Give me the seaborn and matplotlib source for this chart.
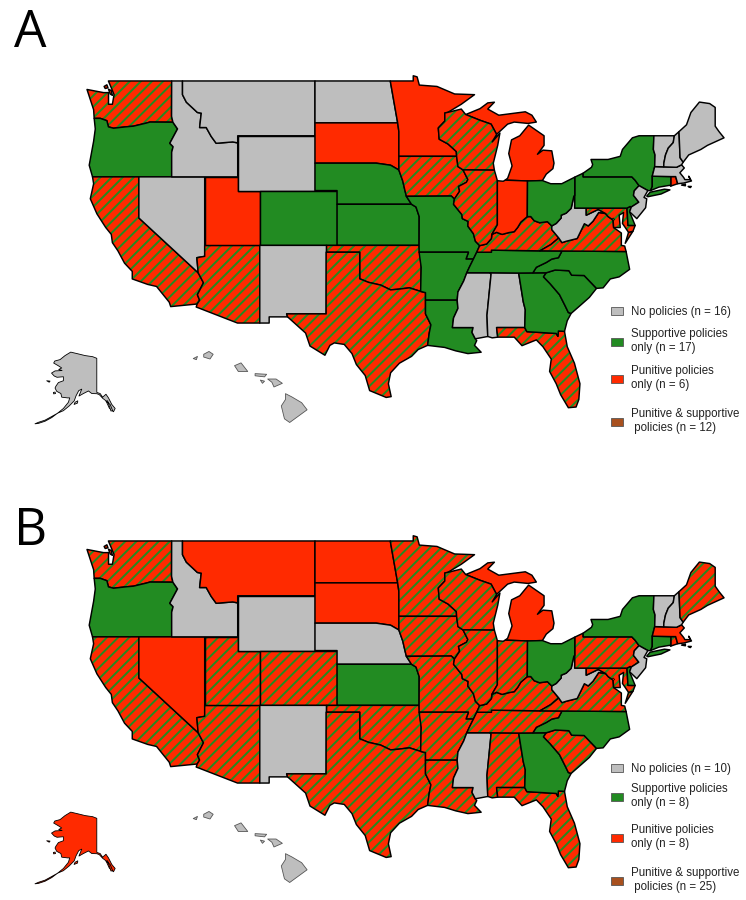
import matplotlib
matplotlib.use('Agg')
import matplotlib.pyplot as plt
import seaborn as sns
import pandas as pd
from matplotlib.patches import Patch

# shared borders, lon/lat (rivers etc)
MISS_A = [(-92.01, 46.71), (-92.29, 46.66), (-92.29, 46.07), (-92.88, 45.57), (-92.8, 44.75), (-92.0, 44.4), (-91.25, 43.85), (-91.22, 43.5)]
MISS_B = [(-91.22, 43.5), (-91.1, 42.75), (-90.64, 42.51)]
MISS_C = [(-90.64, 42.51), (-90.2, 41.8), (-90.34, 41.6), (-91.05, 41.3), (-90.95, 40.95), (-91.42, 40.38)]
MISS_D = [(-91.42, 40.38), (-91.5, 40.0), (-90.75, 39.25), (-90.7, 38.95), (-90.18, 38.75), (-90.2, 38.4), (-89.7, 37.85), (-89.52, 37.3), (-89.13, 36.98)]
MISS_E = [(-89.13, 36.98), (-89.4, 36.5)]
MISS_F = [(-89.4, 36.5), (-89.7, 36.0)]
MISS_G = [(-89.7, 36.0), (-90.07, 35.4), (-90.3, 35.0)]
MISS_H = [(-90.3, 35.0), (-90.58, 34.4), (-91.1, 33.6), (-91.17, 33.0)]
MISS_I = [(-91.17, 33.0), (-91.1, 32.4), (-91.5, 31.7), (-91.6, 31.0)]
OHIO_A = [(-89.13, 36.98), (-88.5, 37.1), (-88.07, 37.5), (-88.03, 37.8)]
OHIO_B = [(-88.03, 37.8), (-87.6, 37.95), (-87.1, 37.8), (-86.5, 37.93), (-86.0, 38.0), (-85.7, 38.3), (-85.4, 38.7), (-84.82, 39.1)]
OHIO_C = [(-84.82, 39.1), (-84.5, 39.1), (-84.2, 38.8), (-83.7, 38.65), (-83.0, 38.73), (-82.6, 38.42)]
OHIO_D = [(-82.6, 38.42), (-82.2, 38.6), (-81.75, 39.0), (-81.75, 39.2), (-81.3, 39.35), (-80.85, 39.7), (-80.6, 40.6)]
SNAKE = [(-116.92, 45.99), (-116.5, 45.5), (-117.2, 44.45), (-116.9, 44.2), (-117.03, 43.8), (-117.03, 42.0)]
BITTERROOT = [(-116.05, 48.0), (-115.7, 47.45), (-114.7, 46.7), (-114.35, 46.65), (-114.5, 45.6), (-113.9, 45.6), (-113.45, 44.95), (-113.0, 44.45), (-111.5, 44.55), (-111.05, 44.48)]
COLUMBIA = [(-116.92, 45.99), (-119.0, 46.0), (-119.3, 45.93), (-120.5, 45.7), (-121.2, 45.65), (-122.3, 45.55), (-122.76, 45.65), (-122.9, 46.1), (-123.5, 46.27), (-124.05, 46.27)]
RED_RIVER = [(-100.0, 34.56), (-99.2, 34.3), (-98.1, 34.1), (-97.2, 33.75), (-96.5, 33.8), (-95.5, 33.9), (-94.48, 33.64)]
COLORADO_R = [(-114.63, 35.0), (-114.15, 34.27), (-114.7, 33.4), (-114.5, 33.0), (-114.72, 32.72)]
MO_RIVER = [(-96.45, 42.5), (-96.1, 41.7), (-95.9, 41.0), (-95.77, 40.58)]
SAVANNAH = [(-83.1, 35.0), (-83.35, 34.7), (-82.75, 34.2), (-81.9, 33.4), (-81.4, 32.6), (-81.1, 32.1), (-80.85, 32.03)]
SMOKIES = [(-81.68, 36.59), (-82.0, 36.1), (-82.6, 36.0), (-83.1, 35.75), (-84.0, 35.4), (-84.32, 34.99)]
NC_SC = [(-83.1, 35.0), (-82.3, 35.2), (-81.05, 35.15), (-80.8, 34.82), (-79.67, 34.8), (-78.55, 33.86)]
KY_VA = [(-81.97, 37.54), (-82.7, 37.05), (-83.68, 36.6)]
VA_WV = [(-77.72, 39.32), (-78.35, 39.4), (-78.87, 38.76), (-79.3, 38.42), (-79.65, 38.58), (-80.3, 37.5), (-81.3, 37.3), (-81.68, 37.2), (-81.97, 37.54)]
POTOMAC = [(-76.3, 37.9), (-77.0, 38.3), (-77.05, 38.85), (-77.5, 39.1), (-77.72, 39.32)]
NY_NJ_PA = [(-75.35, 42.0), (-75.05, 41.75), (-74.7, 41.36)]
DELAWARE_R = [(-74.7, 41.36), (-75.13, 40.98), (-75.2, 40.65), (-74.72, 40.15), (-75.4, 39.8)]
CT_RIVER = [(-71.5, 45.0), (-71.6, 44.5), (-72.05, 44.1), (-72.3, 43.6), (-72.45, 43.0), (-72.46, 42.73)]
VT_NY = [(-73.35, 45.0), (-73.4, 44.0), (-73.25, 43.6), (-73.28, 42.75)]
NH_ME = [(-71.08, 45.3), (-70.98, 43.4), (-70.7, 43.07)]
MA_NORTH = [(-73.28, 42.75), (-72.46, 42.73), (-71.3, 42.7), (-70.85, 42.88)]
WI_UP = [(-90.4, 46.55), (-89.1, 46.13), (-88.1, 45.85), (-87.6, 45.1)]

STATES = {
    'WA': [[(-122.76, 49.0), (-117.03, 49.0), (-117.04, 46.42)] + COLUMBIA + [(-124.1, 46.9), (-124.7, 48.38), (-123.2, 48.15), (-122.75, 48.15), (-122.75, 47.3), (-122.4, 47.3), (-122.25, 48.0), (-122.5, 48.5), (-122.76, 49.0)],
           [(-123.15, 48.6), (-122.9, 48.72), (-122.8, 48.5), (-123.05, 48.45)],
           [(-122.75, 48.4), (-122.5, 48.3), (-122.4, 47.95), (-122.6, 48.05)]],
    'OR': [COLUMBIA + [(-123.95, 45.5), (-124.1, 44.6), (-124.5, 42.85), (-124.2, 42.0), (-120.0, 42.0)] + SNAKE[::-1]],
    'CA': [[(-124.2, 42.0), (-124.1, 41.5), (-124.4, 40.4), (-123.8, 39.3), (-123.0, 38.3), (-122.5, 37.8), (-122.4, 37.2), (-121.9, 36.6), (-121.3, 35.7), (-120.6, 35.1), (-120.6, 34.55), (-119.2, 34.15), (-118.4, 34.0), (-117.25, 32.85), (-117.12, 32.53)] + COLORADO_R[::-1] + [(-120.0, 39.0), (-120.0, 42.0)]],
    'NV': [[(-120.0, 42.0), (-114.04, 42.0), (-114.04, 36.2), (-114.75, 36.1), (-114.63, 35.0), (-120.0, 39.0)]],
    'AZ': [COLORADO_R + [(-114.81, 32.5), (-111.07, 31.33), (-109.05, 31.33), (-109.05, 37.0), (-114.04, 37.0), (-114.04, 36.2), (-114.75, 36.1)]],
    'UT': [[(-114.04, 42.0), (-111.05, 42.0), (-111.05, 41.0), (-109.05, 41.0), (-109.05, 37.0), (-114.04, 37.0)]],
    'ID': [[(-117.03, 49.0), (-116.05, 49.0)] + BITTERROOT + [(-111.05, 42.0)] + SNAKE[::-1] + [(-117.04, 46.42)]],
    'MT': [[(-116.05, 49.0), (-104.05, 49.0), (-104.05, 45.0), (-111.05, 45.0)] + BITTERROOT[::-1]],
    'WY': [[(-111.05, 45.0), (-104.05, 45.0), (-104.05, 41.0), (-111.05, 41.0)]],
    'CO': [[(-109.05, 41.0), (-102.05, 41.0), (-102.05, 37.0), (-109.05, 37.0)]],
    'NM': [[(-109.05, 37.0), (-103.0, 37.0), (-103.04, 32.0), (-106.62, 32.0), (-106.53, 31.78), (-108.2, 31.78), (-108.2, 31.33), (-109.05, 31.33)]],
    'ND': [[(-104.05, 49.0), (-97.23, 49.0), (-96.56, 45.94), (-104.05, 45.94)]],
    'SD': [[(-104.05, 45.94), (-96.56, 45.94), (-96.45, 45.3), (-96.45, 43.5), (-96.45, 42.5), (-97.2, 42.85), (-98.5, 43.0), (-104.05, 43.0)]],
    'NE': [[(-104.05, 43.0), (-98.5, 43.0), (-97.2, 42.85)] + MO_RIVER + [(-95.31, 40.0), (-102.05, 40.0), (-102.05, 41.0), (-104.05, 41.0)]],
    'KS': [[(-102.05, 40.0), (-95.31, 40.0), (-94.9, 39.8), (-94.61, 39.1), (-94.62, 37.0), (-102.05, 37.0)]],
    'OK': [[(-103.0, 37.0), (-94.62, 37.0), (-94.43, 35.4)] + RED_RIVER[::-1] + [(-100.0, 36.5), (-103.0, 36.5)]],
    'TX': [[(-103.04, 36.5), (-100.0, 36.5)] + RED_RIVER + [(-94.04, 33.55), (-94.04, 32.0), (-93.55, 31.2), (-93.7, 30.6), (-93.85, 29.7), (-94.7, 29.4), (-95.3, 28.9), (-96.4, 28.4), (-97.2, 27.7), (-97.4, 26.9), (-97.15, 25.96), (-97.6, 25.9), (-99.1, 26.4), (-99.5, 27.5), (-100.3, 28.3), (-100.7, 29.1), (-101.4, 29.77), (-102.3, 29.88), (-102.7, 29.7), (-103.15, 28.98), (-104.5, 29.65), (-104.9, 30.6), (-106.53, 31.78), (-106.62, 32.0), (-103.04, 32.0)]],
    'MN': [[(-97.23, 49.0), (-95.15, 49.0), (-95.15, 49.38), (-94.8, 49.3), (-94.6, 48.7), (-93.0, 48.6), (-91.4, 48.05), (-89.6, 48.0), (-90.8, 47.3)] + MISS_A + [(-96.45, 43.5), (-96.45, 45.3), (-96.56, 45.94)]],
    'IA': [[(-96.45, 43.5)] + MISS_B + MISS_C + [(-91.7, 40.6)] + MO_RIVER[::-1]],
    'MO': [[(-95.77, 40.58), (-91.7, 40.6)] + MISS_D + MISS_E + MISS_F + [(-90.37, 36.0), (-90.15, 36.5), (-94.62, 36.5), (-94.62, 37.0), (-94.61, 39.1), (-94.9, 39.8), (-95.31, 40.0)]],
    'AR': [[(-94.62, 36.5), (-90.15, 36.5), (-90.37, 36.0)] + MISS_G + MISS_H + [(-94.04, 33.0), (-94.04, 33.55), (-94.48, 33.64), (-94.43, 35.4)]],
    'LA': [[(-94.04, 33.0)] + MISS_I + [(-89.73, 31.0), (-89.83, 30.65), (-89.53, 30.18), (-89.4, 30.05), (-89.6, 29.7), (-89.0, 29.2), (-90.2, 29.1), (-91.3, 29.3), (-92.3, 29.55), (-93.85, 29.7), (-93.7, 30.6), (-93.55, 31.2), (-94.04, 32.0)]],
    'MS': [MISS_H + MISS_I[1:] + [(-89.73, 31.0), (-89.83, 30.65), (-89.53, 30.18), (-88.4, 30.35), (-88.47, 31.9), (-88.1, 34.9), (-88.2, 35.0)]],
    'AL': [[(-88.2, 35.0), (-85.6, 34.98), (-85.18, 32.87), (-85.0, 32.3), (-85.05, 31.0), (-87.6, 31.0), (-87.5, 30.3), (-88.0, 30.25), (-88.4, 30.35), (-88.47, 31.9), (-88.1, 34.9)]],
    'FL': [[(-87.6, 31.0), (-85.05, 31.0), (-84.86, 30.7), (-82.2, 30.57), (-82.05, 30.36), (-82.0, 30.75), (-81.45, 30.72), (-81.2, 29.6), (-80.55, 28.4), (-80.05, 26.9), (-80.15, 25.75), (-80.4, 25.2), (-81.1, 25.15), (-81.8, 26.1), (-82.2, 26.9), (-82.8, 27.8), (-82.65, 28.7), (-83.4, 29.6), (-84.0, 30.1), (-85.3, 29.68), (-86.0, 30.3), (-87.5, 30.3)]],
    'GA': [[(-85.6, 34.98)] + SAVANNAH + [(-81.2, 31.5), (-81.45, 30.72), (-82.0, 30.75), (-82.05, 30.36), (-82.2, 30.57), (-84.86, 30.7), (-85.05, 31.0), (-85.0, 32.3), (-85.18, 32.87)]],
    'SC': [NC_SC + [(-79.2, 33.2), (-79.9, 32.7)] + SAVANNAH[::-1]],
    'NC': [[(-84.32, 34.99)] + NC_SC + [(-77.95, 33.9), (-77.3, 34.55), (-76.5, 34.7), (-75.55, 35.25), (-75.87, 36.55)] + SMOKIES[:-1]],
    'TN': [[(-89.4, 36.5), (-88.07, 36.5), (-88.07, 36.65), (-83.68, 36.6)] + SMOKIES + [(-85.6, 34.98), (-88.2, 35.0)] + MISS_G[::-1] + MISS_F[::-1]],
    'KY': [OHIO_A + OHIO_B + OHIO_C + [(-82.6, 38.15)] + KY_VA + [(-88.07, 36.65), (-88.07, 36.5)] + MISS_E[::-1]],
    'VA': [[(-83.68, 36.6), (-81.68, 36.59), (-75.87, 36.55), (-76.0, 36.95), (-76.3, 37.0)] + POTOMAC + VA_WV + KY_VA[1:],
           [(-75.95, 37.15), (-75.25, 38.03), (-75.65, 37.95)]],
    'WV': [OHIO_D + [(-80.52, 40.64), (-80.52, 39.72), (-79.48, 39.72), (-79.48, 39.2), (-78.4, 39.62)] + VA_WV + [(-82.6, 38.15)]],
    'MD': [[(-79.48, 39.72), (-75.79, 39.72), (-75.7, 38.46), (-75.05, 38.45), (-75.25, 38.03), (-75.65, 37.95), (-76.2, 38.6), (-76.1, 39.4), (-76.5, 39.2), (-76.4, 38.3)] + POTOMAC[1:] + [(-78.4, 39.62), (-79.48, 39.2)]],
    'DE': [[(-75.79, 39.72), (-75.5, 39.84), (-75.4, 39.8), (-75.55, 39.45), (-75.05, 38.45), (-75.7, 38.46)]],
    'DC': [[(-77.12, 38.93), (-77.04, 39.0), (-76.91, 38.89), (-77.04, 38.8)]],
    'PA': [[(-80.52, 41.98), (-79.76, 42.27), (-79.76, 42.0)] + NY_NJ_PA + DELAWARE_R + [(-75.5, 39.84), (-75.79, 39.72), (-80.52, 39.72), (-80.52, 40.64)]],
    'NY': [[(-79.76, 42.27), (-79.0, 42.7), (-78.9, 42.9), (-79.05, 43.27), (-77.5, 43.27), (-76.4, 43.5), (-76.2, 44.0), (-75.3, 44.85), (-74.7, 45.0)] + VT_NY + [(-73.5, 42.05), (-73.5, 41.3), (-73.65, 41.0), (-73.9, 41.0)] + NY_NJ_PA[::-1] + [(-79.76, 42.0)],
           [(-74.0, 40.6), (-73.7, 40.88), (-72.4, 41.1), (-71.9, 41.05), (-72.7, 40.75), (-73.9, 40.55)]],
    'NJ': [DELAWARE_R + [(-75.55, 39.45), (-74.9, 38.95), (-74.1, 39.75), (-74.0, 40.4), (-74.25, 40.5), (-73.9, 41.0)]],
    'CT': [[(-73.5, 42.05), (-71.8, 42.02), (-71.8, 41.4), (-72.9, 41.25), (-73.65, 41.0), (-73.5, 41.3)]],
    'RI': [[(-71.8, 42.02), (-71.38, 42.02), (-71.2, 41.5), (-71.85, 41.32), (-71.8, 41.4)]],
    'MA': [[(-73.5, 42.05)] + MA_NORTH + [(-70.6, 42.65), (-71.0, 42.3), (-70.65, 41.95), (-70.55, 41.8), (-70.05, 41.8), (-70.2, 42.05), (-69.95, 41.7), (-70.65, 41.55), (-71.2, 41.5), (-71.38, 42.02), (-71.8, 42.02)],
           [(-70.85, 41.4), (-70.5, 41.48), (-70.5, 41.35)],
           [(-70.25, 41.3), (-69.97, 41.3), (-70.05, 41.22)]],
    'VT': [VT_NY + [(-72.46, 42.73)] + CT_RIVER[::-1]],
    'NH': [CT_RIVER + MA_NORTH[2:] + NH_ME[::-1]],
    'ME': [[(-71.08, 45.3), (-70.4, 45.8), (-70.0, 46.7), (-69.23, 47.46), (-68.3, 47.35), (-67.8, 47.07), (-67.8, 45.7), (-67.45, 45.3), (-67.0, 44.85), (-68.5, 44.3), (-69.1, 44.0), (-70.2, 43.6), (-70.7, 43.07), (-70.98, 43.4)]],
    'MI': [[(-86.82, 41.76), (-84.8, 41.7), (-83.45, 41.73), (-83.1, 42.2), (-82.5, 42.6), (-82.4, 43.0), (-82.6, 43.9), (-83.4, 43.95), (-83.9, 43.65), (-83.3, 44.3), (-83.3, 45.0), (-84.7, 45.78), (-85.5, 45.0), (-86.25, 44.7), (-86.5, 43.7), (-86.2, 42.8), (-86.6, 41.9)],
           WI_UP[::-1] + [(-89.1, 46.98), (-88.4, 47.4), (-87.8, 47.45), (-88.4, 46.95), (-87.4, 46.5), (-85.0, 46.75), (-84.4, 46.5), (-84.0, 46.0), (-84.75, 45.9), (-86.0, 46.0), (-86.6, 45.85)]],
    'WI': [[(-92.01, 46.71), (-90.8, 46.95)] + WI_UP + [(-88.0, 44.55), (-87.3, 45.2), (-87.5, 44.3), (-87.9, 43.0), (-87.8, 42.49)] + MISS_B[::-1] + MISS_A[::-1]],
    'IL': [[(-90.64, 42.51), (-87.8, 42.49), (-87.53, 41.72), (-87.53, 38.5)] + OHIO_A[::-1] + MISS_D[::-1] + MISS_C[::-1]],
    'IN': [[(-87.53, 41.72), (-87.0, 41.68), (-86.82, 41.76), (-84.8, 41.7)] + OHIO_B[::-1] + [(-87.53, 38.5)]],
    'OH': [[(-84.8, 41.7), (-83.45, 41.73), (-82.7, 41.5), (-81.7, 41.5), (-80.52, 41.98), (-80.52, 40.64)] + OHIO_D[::-1] + OHIO_C[::-1]],
}

ALASKA = [[(-141.0, 69.65), (-143.5, 70.1), (-148.0, 70.4), (-152.0, 70.85), (-156.6, 71.35), (-160.0, 70.4), (-163.0, 69.3), (-166.2, 68.9), (-166.8, 68.35), (-164.0, 67.6), (-162.0, 67.0), (-163.8, 66.6), (-161.8, 66.3), (-166.0, 66.2), (-168.1, 65.6), (-166.5, 64.8), (-164.8, 64.45), (-161.0, 64.6), (-161.0, 63.5), (-164.0, 63.0), (-165.5, 62.0), (-166.0, 61.5), (-165.0, 60.6), (-162.5, 60.0), (-162.0, 59.0), (-158.5, 58.8), (-157.2, 58.8), (-158.0, 57.6), (-161.0, 55.9), (-164.5, 54.6), (-161.0, 55.3), (-157.5, 56.6), (-154.5, 58.0), (-153.5, 59.3), (-151.8, 60.8), (-150.0, 61.2), (-151.7, 59.3), (-149.0, 60.0), (-146.0, 60.7), (-144.0, 60.0), (-141.0, 59.95), (-139.5, 59.7), (-137.5, 58.7), (-135.5, 58.0), (-133.5, 56.0), (-131.0, 55.0), (-130.0, 55.9), (-132.0, 57.0), (-134.0, 58.8), (-135.5, 59.8), (-137.5, 59.0), (-139.0, 60.0), (-141.0, 60.3)],
          [(-154.6, 57.0), (-152.5, 57.4), (-152.4, 58.0), (-154.0, 57.6)],
          [(-167.0, 60.3), (-166.0, 60.4), (-165.7, 60.0), (-166.8, 59.9)],
          [(-171.0, 63.5), (-169.0, 63.4), (-169.5, 63.1)],
          [(-164.5, 54.6), (-168.0, 53.4), (-172.0, 52.4), (-176.0, 51.8), (-178.0, 51.7), (-176.0, 52.1), (-172.0, 52.7), (-168.0, 53.7)],
          [(-135.5, 57.9), (-134.5, 58.0), (-133.5, 56.5), (-132.5, 55.2), (-131.5, 55.3), (-133.0, 57.0)]]

HAWAII = [[(-155.85, 20.27), (-155.55, 20.12), (-155.08, 19.85), (-154.82, 19.52), (-155.65, 18.93), (-155.9, 19.1), (-156.05, 19.7), (-155.85, 20.0)],
          [(-156.7, 20.95), (-156.3, 20.95), (-156.0, 20.75), (-156.4, 20.58), (-156.5, 20.8)],
          [(-157.3, 21.2), (-156.75, 21.17), (-156.85, 21.05), (-157.3, 21.1)],
          [(-157.05, 20.9), (-156.85, 20.85), (-156.95, 20.75)],
          [(-158.28, 21.57), (-157.97, 21.7), (-157.65, 21.3), (-158.1, 21.3)],
          [(-159.75, 22.1), (-159.5, 22.23), (-159.3, 22.1), (-159.45, 21.88), (-159.75, 21.97)],
          [(-160.25, 21.9), (-160.05, 22.0), (-160.1, 21.85)]]

# policy groups per panel
a_none = ['MT', 'ID', 'WY', 'ND', 'NV', 'NM', 'MS', 'AL', 'WV', 'NJ', 'VT', 'NH', 'ME', 'MA', 'AK', 'HI']
a_supportive = ['OR', 'NE', 'CO', 'KS', 'MO', 'AR', 'LA', 'TN', 'NC', 'SC', 'GA', 'OH', 'PA', 'NY', 'CT', 'DE', 'DC']
a_punitive = ['SD', 'MN', 'UT', 'MI', 'IN', 'RI']
a_both = ['WA', 'CA', 'AZ', 'TX', 'OK', 'IA', 'WI', 'IL', 'KY', 'VA', 'MD', 'FL']

b_none = ['ID', 'WY', 'NE', 'NM', 'MS', 'WV', 'NJ', 'VT', 'NH', 'HI']
b_supportive = ['OR', 'KS', 'OH', 'NY', 'CT', 'GA', 'NC', 'DE']
b_punitive = ['MT', 'ND', 'SD', 'NV', 'MI', 'MA', 'AK', 'DC']
b_both = ['WA', 'CA', 'AZ', 'UT', 'CO', 'TX', 'OK', 'MN', 'IA', 'MO', 'AR', 'LA', 'WI', 'IL', 'IN', 'KY', 'TN', 'AL', 'SC', 'FL', 'VA', 'MD', 'PA', 'ME', 'RI']

groups = ['none', 'supportive', 'punitive', 'both']
label_text = ['No policies (n = {})', 'Supportive policies\nonly (n = {})', 'Punitive policies\nonly (n = {})', 'Punitive & supportive\n policies (n = {})']

rows = []
for panel, lists in (('A', (a_none, a_supportive, a_punitive, a_both)), ('B', (b_none, b_supportive, b_punitive, b_both))):
    for g, names in zip(groups, lists):
        rows += [{'panel': panel, 'state': s, 'group': g} for s in names]
policy = pd.DataFrame(rows)

sns.set_theme(style='white')
plt.rcParams['font.family'] = ['Liberation Sans', 'DejaVu Sans']
plt.rcParams['hatch.linewidth'] = 1.4

GRAY, GREEN, RED, BROWN = sns.color_palette(['#bebebe', '#228b22', '#ff2a00', '#a8501e'])
fills = {'none': GRAY, 'supportive': GREEN, 'punitive': RED}

W, H = 746, 900
fig = plt.figure(figsize=(W / 100, H / 100), dpi=100)


def px_axes(x0, y0, x1, y1, xlim, ylim):
    ax = fig.add_axes([x0 / W, 1 - y1 / H, (x1 - x0) / W, (y1 - y0) / H])
    ax.set_xlim(*xlim)
    ax.set_ylim(*ylim)
    ax.axis('off')
    sns.despine(ax=ax, left=True, bottom=True)
    return ax


def draw_state(ax, parts, group, lw=1.3, edge='black'):
    for part in parts:
        xs, ys = zip(*part)
        if group == 'both':
            ax.fill(xs, ys, facecolor=RED, edgecolor=GREEN, hatch='///', linewidth=0)
        else:
            ax.fill(xs, ys, facecolor=fills[group], linewidth=0)
        ax.fill(xs, ys, facecolor='none', edgecolor=edge, linewidth=lw, joinstyle='round')


legend_rows = {'A': [318, 354, 391, 434], 'B': [775, 809, 850, 893]}

for panel, dy, letter_y in (('A', 0, 47), ('B', 460, 545)):
    status = policy[policy.panel == panel].set_index('state').group
    ax = px_axes(0, dy, W, dy + 440, (-132.58, -65.01), (54.91 - 440 / 13.7, 54.91))
    for name, parts in STATES.items():
        draw_state(ax, parts, status[name], lw=0.5 if name == 'DC' else 1.05)

    ax_ak = px_axes(30, dy + 345, 120, dy + 430, (-181.0, -127.1), (50.0, 73.3))
    draw_state(ax_ak, ALASKA, status['AK'], lw=0.6)
    ax_hi = px_axes(188, dy + 342, 318, dy + 427, (-160.5, -154.3), (18.72, 22.67))
    draw_state(ax_hi, HAWAII, status['HI'], lw=0.6, edge='#555555')

    fig.text(14 / W, 1 - letter_y / H, panel, family='Open Sans', fontsize=37, color='black', ha='left', va='baseline')

    counts = policy[policy.panel == panel].group.value_counts()
    for g, txt, color, y in zip(groups, label_text, (GRAY, GREEN, RED, BROWN), legend_rows[panel]):
        patch = Patch(facecolor=color, edgecolor='#555555', linewidth=0.6)
        fig.legend(handles=[patch], labels=[txt.format(counts[g])], loc='lower left',
                   bbox_to_anchor=(611 / W, 1 - y / H),
                   frameon=False, fontsize=8.3, borderpad=0, borderaxespad=0,
                   handlelength=1.0, handleheight=0.7, handletextpad=0.7,
                   labelcolor='#222222')

fig.savefig('out.png', dpi=100)
